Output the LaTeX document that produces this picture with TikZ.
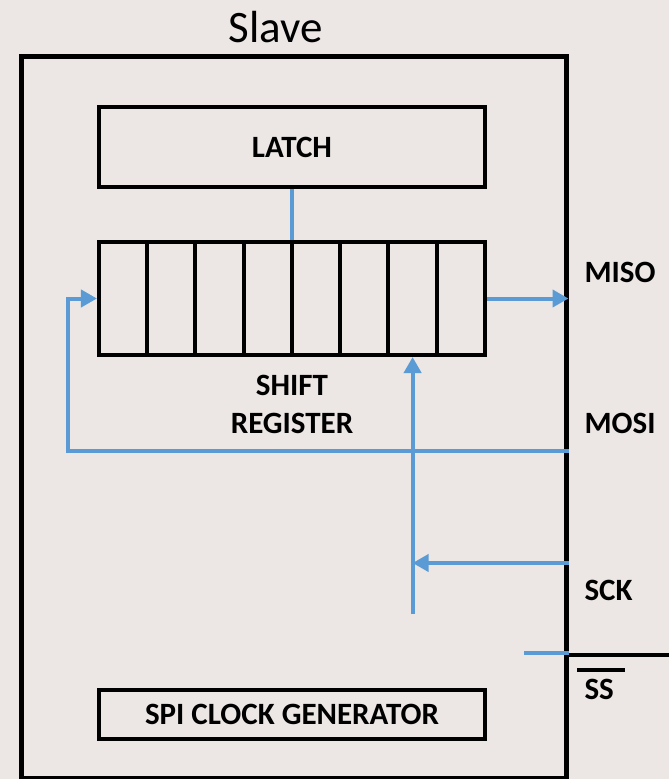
\documentclass[tikz,border=0pt]{standalone}
\usepackage{fontspec}
\setmainfont{Carlito}
\usetikzlibrary{positioning, arrows.meta}
\definecolor{spiblue}{RGB}{91,155,213}
\definecolor{bgcol}{RGB}{236,231,229}

\begin{document}
\begin{tikzpicture}[x=1pt, y=-1pt, node distance=48.25pt, on grid,
    every node/.style={font=\fontsize{31}{38}\selectfont\bfseries},
    block/.style={draw, line width=4pt, minimum width=386pt, inner sep=0pt},
    cell/.style={draw, line width=4pt, minimum width=48.25pt, minimum height=113pt, inner sep=0pt},
    pin/.style={anchor=west},
    wire/.style={draw=spiblue, line width=4pt},
    link/.style={wire, -{Triangle[length=16pt, width=17pt]}}]
    \fill[bgcol] (0,0) rectangle (669,779);
    \useasboundingbox (0,0) rectangle (669,779);

    % slave device outline and title
    \node[draw, line width=4.5pt, minimum width=545pt, minimum height=722pt, anchor=north west] (slave) at (19,54) {};
    \node[font=\fontsize{45}{54}\selectfont] (title) at (276,27) {Slave};

    % blocks
    \node[block, minimum height=80pt] (latch) at (292,147) {LATCH};
    \node[cell] (c1) at (123.1,298.5) {};
    \foreach \i [count=\j from 2] in {1,...,7}
        \node[cell, right=of c\i] (c\j) {};
    \node[align=center] (shiftreg) at (292,404) {SHIFT\\REGISTER};
    \node[block, minimum height=49pt] (clkgen) at (292,714.5) {SPI CLOCK GENERATOR};

    % pin labels
    \node[pin] (miso) at (581,272) {MISO};
    \node[pin] (mosi) at (581,423) {MOSI};
    \node[pin] (sck) at (581,590) {SCK};
    \node[pin] (ss) at (581,689) {SS};
    \draw[line width=4pt] (577,670) -- (625,670);

    \coordinate (mosiin) at (slave.east |- 0,451);
    \coordinate (turn) at (68,451);
    \coordinate (sckin) at (slave.east |- 0,563);
    \coordinate (sckend) at (c7.south |- 0,614);
    \coordinate (ssin) at (524,653);
    \coordinate (ssout) at (669,655);

    % connections
    \draw[wire] (latch.south) -- (latch.south |- c4.north);
    \draw[link] (c8.east) -- (c8.east -| slave.east);
    \draw[link] (mosiin) -- (turn) |- (c1.west);
    \draw[link] (sckend) -- (c7.south);
    \draw[link] (sckin) -- (sckin -| c7.south);
    \draw[wire] (ssin) -- (ssin -| slave.east);
    \draw[line width=4pt] (ssout -| slave.east) -- (ssout);
\end{tikzpicture}
\end{document}
